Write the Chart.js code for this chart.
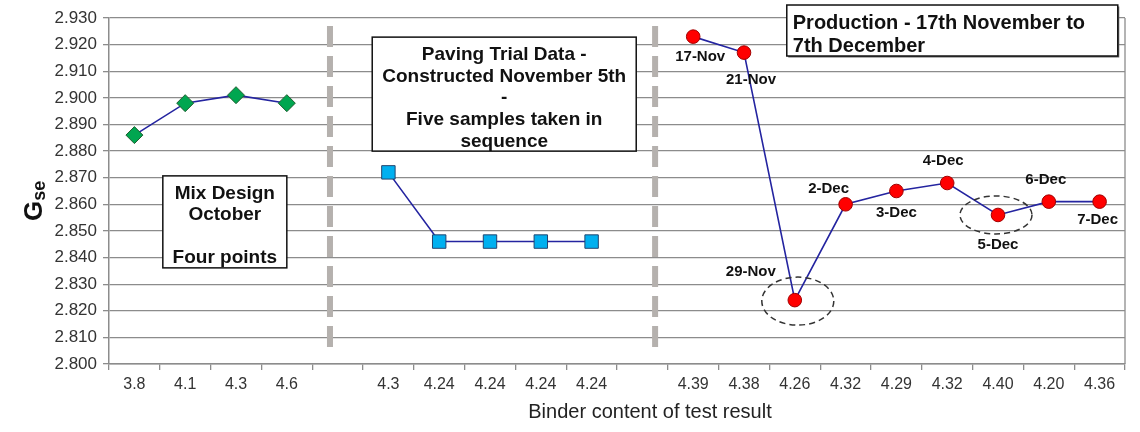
<!DOCTYPE html>
<html>
<head>
<meta charset="utf-8">
<script src="https://cdn.jsdelivr.net/npm/chart.js@4.4.0/dist/chart.umd.min.js"></script>
<style>
  body { margin: 0; background: #fff; }
</style>
</head>
<body>
<canvas id="gse-chart" width="1140" height="432"></canvas>
<script>
// data
const categories = ['3.8', '4.1', '4.3', '4.6', '', '4.3', '4.24', '4.24', '4.24', '4.24', '',
    '4.39', '4.38', '4.26', '4.32', '4.29', '4.32', '4.40', '4.20', '4.36'];
const mixValues = [2.886, 2.898, 2.901, 2.898];
const trialValues = [2.872, 2.846, 2.846, 2.846, 2.846];
const productionValues = [2.923, 2.917, 2.824, 2.860, 2.865, 2.868, 2.856, 2.861, 2.861];
const productionDates = ['17-Nov', '21-Nov', '29-Nov', '2-Dec', '3-Dec', '4-Dec', '5-Dec', '6-Dec', '7-Dec'];
const yTicks = [2.800, 2.930, 0.010];

// where each group starts on the category axis
const mixStart = 0, trialStart = 5, productionStart = 11;
const dividerIndexes = [3.85, 10.25];

// label offsets (px) from each production point
const labelOffsets = [[7, 20], [7, 27], [-44, -28], [-17, -15], [0, 22], [-4, -22], [0, 30], [-3, -22], [-2, 18]];
// dashed rings: [point index, dx, dy, rx, ry]
const rings = [[2, 3, 1, 36, 24], [6, -2, 0, 36, 19]];

// text boxes anchored to the scales: index, value, width, height
const boxes = [
    { idx: 1.78, val: 2.8534, w: 124, h: 92, lines: ['Mix Design', 'October', '', 'Four points'], font: 'bold 19px Liberation Sans, Arial, sans-serif', lh: 21.5, align: 'center' },
    { idx: 7.28, val: 2.9014, w: 264, h: 114, lines: ['Paving Trial Data -', 'Constructed November 5th', '-', 'Five samples taken in', 'sequence'], font: 'bold 19px Liberation Sans, Arial, sans-serif', lh: 21.7, align: 'center' },
    { idx: 16.1, val: 2.9253, w: 331, h: 51, lines: ['Production - 17th November to', '7th December'], font: 'bold 20px Liberation Sans, Arial, sans-serif', lh: 23, align: 'left', shadow: true }
];

function place(start, values) {
    const out = categories.map(() => null);
    values.forEach((v, i) => { out[start + i] = v; });
    return out;
}

const FONT = 'Liberation Sans, Arial, sans-serif';

const decorPlugin = {
    id: 'decor',
    beforeDatasetsDraw(chart) {
        const ctx = chart.ctx;
        const x = chart.scales.x, y = chart.scales.y;
        ctx.save();
        ctx.strokeStyle = '#b5b1ae';
        ctx.lineWidth = 6;
        ctx.setLineDash([21, 9]);
        dividerIndexes.forEach(i => {
            const px = x.getPixelForValue(i);
            ctx.beginPath();
            ctx.moveTo(px, y.getPixelForValue(2.927));
            ctx.lineTo(px, y.getPixelForValue(2.8035));
            ctx.stroke();
        });
        ctx.restore();
    },
    afterDatasetsDraw(chart) {
        const ctx = chart.ctx;
        const area = chart.chartArea;
        const x = chart.scales.x, y = chart.scales.y;
        ctx.save();

        // right edge of the plot
        ctx.strokeStyle = '#8c8c8c';
        ctx.lineWidth = 1.3;
        ctx.beginPath();
        ctx.moveTo(area.right, area.top);
        ctx.lineTo(area.right, area.bottom);
        ctx.stroke();

        // boxes
        boxes.forEach(b => {
            const cx = x.getPixelForValue(b.idx), cy = y.getPixelForValue(b.val);
            const left = cx - b.w / 2, top = cy - b.h / 2;
            if (b.shadow) {
                ctx.fillStyle = '#666';
                ctx.fillRect(left + 1.5, top + 1.5, b.w, b.h);
            }
            ctx.fillStyle = '#fff';
            ctx.fillRect(left, top, b.w, b.h);
            ctx.strokeStyle = '#111';
            ctx.lineWidth = 1.5;
            ctx.setLineDash([]);
            ctx.strokeRect(left, top, b.w, b.h);
            ctx.fillStyle = '#111';
            ctx.font = b.font;
            ctx.textBaseline = 'middle';
            ctx.textAlign = b.align;
            const tx = b.align === 'left' ? left + 6 : cx;
            const first = cy + 4 - (b.lines.length - 1) * b.lh / 2;
            b.lines.forEach((t, i) => ctx.fillText(t, tx, first + i * b.lh));
        });

        // date labels
        const meta = chart.getDatasetMeta(2);
        ctx.font = 'bold 15px ' + FONT;
        ctx.fillStyle = '#111';
        ctx.textAlign = 'center';
        ctx.textBaseline = 'middle';
        productionDates.forEach((d, i) => {
            const pt = meta.data[productionStart + i];
            ctx.fillText(d, pt.x + labelOffsets[i][0], pt.y + labelOffsets[i][1]);
        });

        // dashed rings
        ctx.strokeStyle = '#333';
        ctx.lineWidth = 1.5;
        ctx.setLineDash([6, 4]);
        rings.forEach(r => {
            const pt = meta.data[productionStart + r[0]];
            ctx.beginPath();
            ctx.ellipse(pt.x + r[1], pt.y + r[2], r[3], r[4], 0, 0, Math.PI * 2);
            ctx.stroke();
        });
        ctx.restore();
    },
    afterDraw(chart) {
        const ctx = chart.ctx;
        const area = chart.chartArea;
        ctx.save();
        // y title G with subscript se
        ctx.fillStyle = '#111';
        ctx.translate(42, (area.top + area.bottom) / 2 + 30);
        ctx.rotate(-Math.PI / 2);
        ctx.textBaseline = 'alphabetic';
        ctx.textAlign = 'left';
        ctx.font = 'bold 26px ' + FONT;
        ctx.fillText('G', 0, 0);
        const gw = ctx.measureText('G').width;
        ctx.font = 'bold 18px ' + FONT;
        ctx.fillText('se', gw, 3);
        ctx.restore();

        // x title
        ctx.save();
        ctx.fillStyle = '#222';
        ctx.font = '20px ' + FONT;
        ctx.textAlign = 'center';
        ctx.textBaseline = 'middle';
        ctx.fillText('Binder content of test result', 650, 412);
        ctx.restore();
    }
};

const lineColor = '#2424a0';

const gseChart = new Chart(document.getElementById('gse-chart'), {
    type: 'line',
    data: {
        labels: categories,
        datasets: [{
            label: 'Mix Design',
            data: place(mixStart, mixValues),
            borderColor: lineColor,
            borderWidth: 1.6,
            pointStyle: 'rectRot',
            pointRadius: 8.5,
            pointBackgroundColor: '#00a650',
            pointBorderColor: '#1e5e30',
            pointBorderWidth: 1
        }, {
            label: 'Paving Trial',
            data: place(trialStart, trialValues),
            borderColor: lineColor,
            borderWidth: 1.6,
            pointStyle: 'rect',
            pointRadius: 9.5,
            pointBackgroundColor: '#00b0f0',
            pointBorderColor: '#23456e',
            pointBorderWidth: 1
        }, {
            label: 'Production',
            data: place(productionStart, productionValues),
            borderColor: lineColor,
            borderWidth: 1.6,
            pointStyle: 'circle',
            pointRadius: 6.8,
            pointBackgroundColor: '#ff0000',
            pointBorderColor: '#a00000',
            pointBorderWidth: 1
        }]
    },
    options: {
        responsive: false,
        animation: false,
        spanGaps: false,
        layout: { padding: { top: 18, right: 15, left: 0, bottom: 0 } },
        plugins: {
            legend: { display: false },
            tooltip: { enabled: false }
        },
        scales: {
            x: {
                offset: true,
                grid: { offset: true, drawOnChartArea: false, drawTicks: true, tickLength: 6, color: '#8c8c8c', lineWidth: 1.3 },
                border: { color: '#8c8c8c', width: 1.5 },
                ticks: { font: { family: FONT, size: 16 }, color: '#333', padding: 5, maxRotation: 0, autoSkip: false },
                afterFit(s) { s.height = 68; }
            },
            y: {
                min: yTicks[0],
                max: yTicks[1],
                grid: { color: '#8c8c8c', lineWidth: 1.3, tickLength: 6 },
                border: { color: '#8c8c8c', width: 1.5 },
                ticks: {
                    stepSize: yTicks[2],
                    font: { family: FONT, size: 17 },
                    color: '#333',
                    padding: 6,
                    callback: v => v.toFixed(3)
                },
                afterFit(s) { s.width = 109; }
            }
        }
    },
    plugins: [decorPlugin]
});
</script>
</body>
</html>
